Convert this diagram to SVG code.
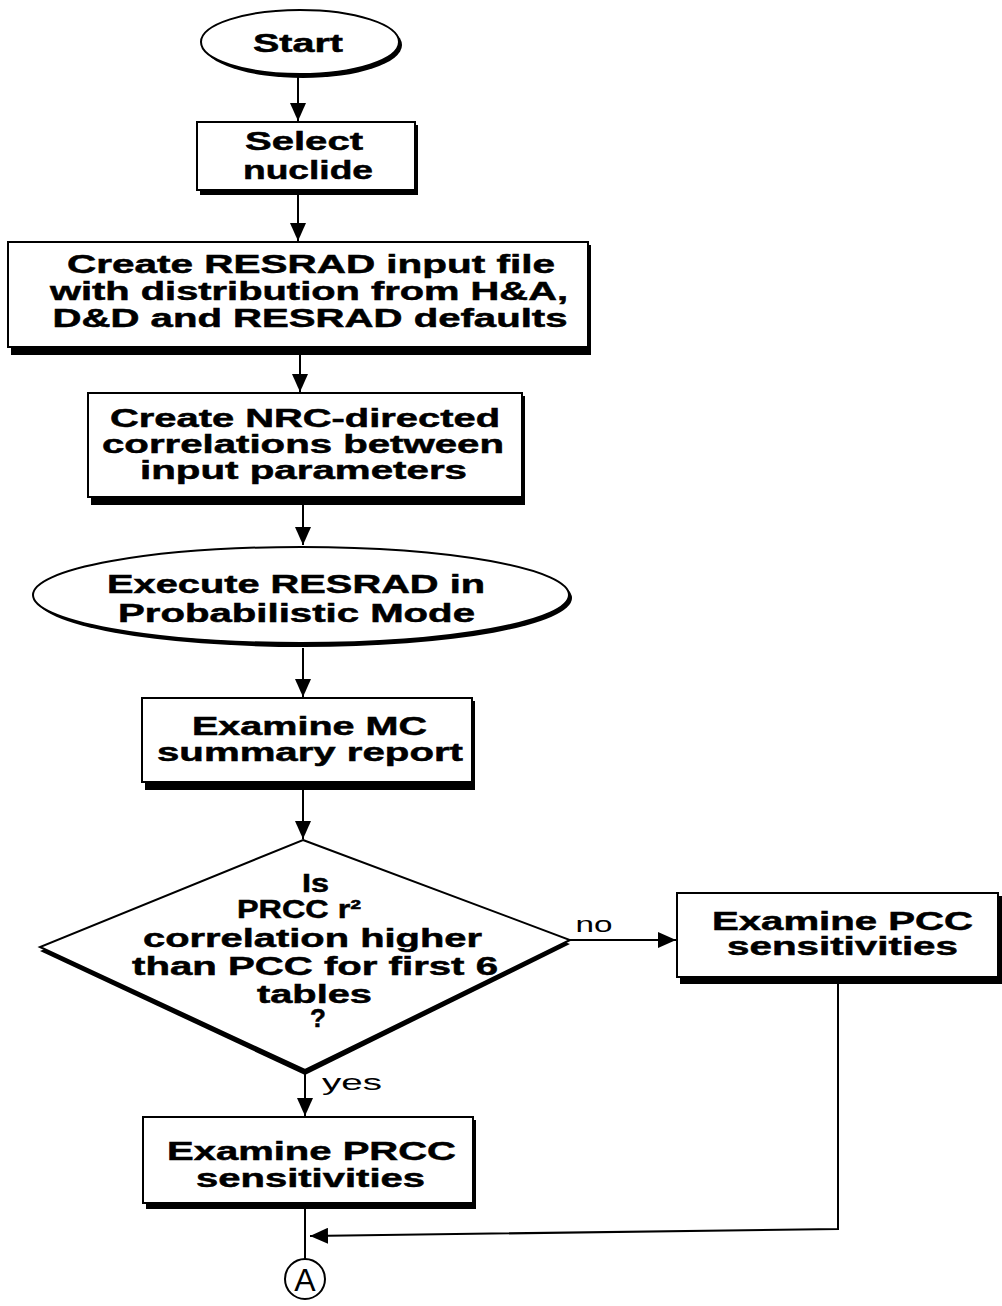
<svg xmlns="http://www.w3.org/2000/svg" width="1002" height="1306" viewBox="0 0 1002 1306">
<style>
.sh{fill:#000;stroke:none}
.bx{fill:#fff;stroke:#000;stroke-width:2}
.t{font-family:"Liberation Sans",Arial,sans-serif;font-weight:bold;font-size:26px;fill:#000;stroke:#000;stroke-width:0.5;text-anchor:middle}
.l{font-family:"Liberation Sans",Arial,sans-serif;font-size:22px;fill:#000;text-anchor:middle}
.c{fill:none;stroke:#000;stroke-width:2}
</style>
<defs>
<marker id="ah" markerUnits="userSpaceOnUse" markerWidth="20" markerHeight="16" refX="18" refY="8" orient="auto">
<path d="M0,0 L18,8 L0,16 Z" fill="#000"/>
</marker>
</defs>
<rect width="1002" height="1306" fill="#fff"/>
<g id="connectors">
<line class="c" x1="298" y1="76" x2="298" y2="121" marker-end="url(#ah)"/>
<line class="c" x1="298" y1="195" x2="298" y2="241" marker-end="url(#ah)"/>
<line class="c" x1="300" y1="353" x2="300" y2="392" marker-end="url(#ah)"/>
<line class="c" x1="303" y1="503" x2="303" y2="545" marker-end="url(#ah)"/>
<line class="c" x1="303" y1="648" x2="303" y2="697" marker-end="url(#ah)"/>
<line class="c" x1="303" y1="788" x2="303" y2="839" marker-end="url(#ah)"/>
<line class="c" x1="305" y1="1072" x2="305" y2="1116" marker-end="url(#ah)"/>
<line class="c" x1="570" y1="940" x2="676" y2="940" marker-end="url(#ah)"/>
<polyline class="c" points="838,982 838,1229 310,1236" marker-end="url(#ah)"/>
<line class="c" x1="305" y1="1208" x2="305" y2="1259"/>
<text class="l" x="594" y="932" textLength="37" lengthAdjust="spacingAndGlyphs">no</text>
<text class="l" x="352" y="1090" textLength="60" lengthAdjust="spacingAndGlyphs">yes</text>
</g>
<g id="start">
<ellipse class="sh" cx="303" cy="45" rx="99" ry="33"/>
<ellipse class="bx" cx="300" cy="42" rx="99" ry="32"/>
<text class="t" x="298" y="52" font-size="28" textLength="90" lengthAdjust="spacingAndGlyphs">Start</text>
</g>
<g id="select">
<rect class="sh" x="200" y="125" width="218" height="70"/>
<rect class="bx" x="197" y="122" width="218" height="68"/>
<text class="t" x="304" y="150" textLength="118" lengthAdjust="spacingAndGlyphs">Select</text>
<text class="t" x="308" y="179" textLength="130" lengthAdjust="spacingAndGlyphs">nuclide</text>
</g>
<g id="create-input">
<rect class="sh" x="11" y="245" width="580" height="110"/>
<rect class="bx" x="8" y="242" width="580" height="105"/>
<text class="t" x="311" y="273" textLength="488" lengthAdjust="spacingAndGlyphs">Create RESRAD input file</text>
<text class="t" x="309" y="300" textLength="518" lengthAdjust="spacingAndGlyphs">with distribution from H&amp;A,</text>
<text class="t" x="310" y="327" textLength="515" lengthAdjust="spacingAndGlyphs">D&amp;D and RESRAD defaults</text>
</g>
<g id="create-correlations">
<rect class="sh" x="91" y="396" width="434" height="109"/>
<rect class="bx" x="88" y="393" width="434" height="104"/>
<text class="t" x="305" y="427" textLength="390" lengthAdjust="spacingAndGlyphs">Create NRC-directed</text>
<text class="t" x="303" y="453" textLength="402" lengthAdjust="spacingAndGlyphs">correlations between</text>
<text class="t" x="303.5" y="479" textLength="327" lengthAdjust="spacingAndGlyphs">input parameters</text>
</g>
<g id="execute">
<ellipse class="sh" cx="304" cy="598" rx="268" ry="49"/>
<ellipse class="bx" cx="301" cy="595" rx="268" ry="48"/>
<text class="t" x="296" y="593" textLength="378" lengthAdjust="spacingAndGlyphs">Execute RESRAD in</text>
<text class="t" x="296.5" y="622" textLength="357" lengthAdjust="spacingAndGlyphs">Probabilistic Mode</text>
</g>
<g id="examine-mc">
<rect class="sh" x="145" y="701" width="330" height="89"/>
<rect class="bx" x="142" y="698" width="330" height="84"/>
<text class="t" x="309.5" y="735" textLength="235" lengthAdjust="spacingAndGlyphs">Examine MC</text>
<text class="t" x="310" y="761" textLength="306" lengthAdjust="spacingAndGlyphs">summary report</text>
</g>
<g id="decision">
<polygon class="sh" points="303,844 570,944 305,1075 40,951"/>
<polygon class="bx" points="303,840 570,940 305,1070 40,947"/>
<text class="t" x="315.5" y="892" textLength="27" lengthAdjust="spacingAndGlyphs">Is</text>
<text class="t" x="299" y="918" textLength="124" lengthAdjust="spacingAndGlyphs">PRCC r²</text>
<text class="t" x="312.5" y="947" textLength="339" lengthAdjust="spacingAndGlyphs">correlation higher</text>
<text class="t" x="315" y="975" textLength="366" lengthAdjust="spacingAndGlyphs">than PCC for first 6</text>
<text class="t" x="314.5" y="1003" textLength="115" lengthAdjust="spacingAndGlyphs">tables</text>
<text class="t" x="318" y="1027">?</text>
</g>
<g id="examine-pcc">
<rect class="sh" x="680" y="896" width="322" height="88"/>
<rect class="bx" x="677" y="893" width="321" height="84"/>
<text class="t" x="842.5" y="930" textLength="261" lengthAdjust="spacingAndGlyphs">Examine PCC</text>
<text class="t" x="842.5" y="955" textLength="231" lengthAdjust="spacingAndGlyphs">sensitivities</text>
</g>
<g id="examine-prcc">
<rect class="sh" x="146" y="1120" width="330" height="89"/>
<rect class="bx" x="143" y="1117" width="330" height="86"/>
<text class="t" x="311.5" y="1160" textLength="289" lengthAdjust="spacingAndGlyphs">Examine PRCC</text>
<text class="t" x="310.5" y="1187" textLength="229" lengthAdjust="spacingAndGlyphs">sensitivities</text>
</g>
<g id="connector-a">
<circle cx="305" cy="1279" r="20" fill="#fff" stroke="#000" stroke-width="2"/>
<text x="305" y="1291" font-family="'Liberation Sans',Arial,sans-serif" font-size="32" text-anchor="middle">A</text>
</g>
</svg>
